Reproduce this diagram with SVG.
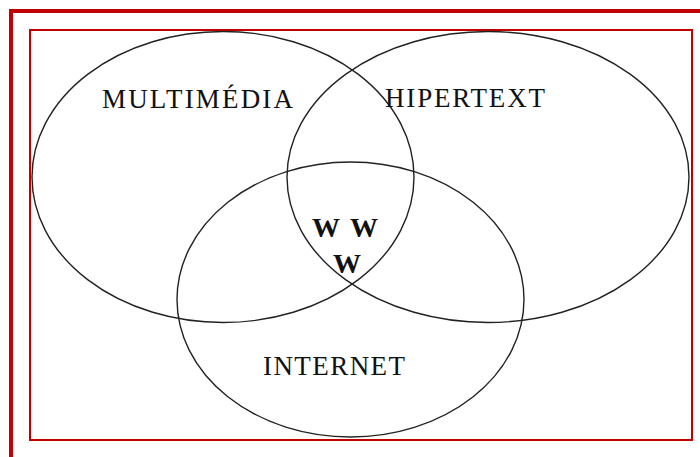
<svg xmlns="http://www.w3.org/2000/svg" width="700" height="457" viewBox="0 0 700 457">
<style>
.frame{fill:none;stroke:#c00000}
.set{fill:none;stroke:#222;stroke-width:1.4}
.lbl{font-family:"Liberation Serif","DejaVu Serif",serif;font-size:27px;fill:#111}
.www{font-family:"Liberation Serif","DejaVu Serif",serif;font-size:28px;font-weight:bold;fill:#111}
</style>
<rect width="700" height="457" fill="#fff"/>
<g id="frame">
<path class="frame" stroke-width="4" d="M11 457V11H700"/>
<rect class="frame" stroke-width="2" x="30" y="30" width="662" height="410"/>
</g>
<g id="multimedia">
<ellipse class="set" cx="223" cy="177" rx="191" ry="145.5"/>
<text class="lbl" x="102" y="108" textLength="191" lengthAdjust="spacing">MULTIMÉDIA</text>
</g>
<g id="hipertext">
<ellipse class="set" cx="488" cy="177" rx="201" ry="145.5"/>
<text class="lbl" x="385" y="107" textLength="160" lengthAdjust="spacing">HIPERTEXT</text>
</g>
<g id="internet">
<ellipse class="set" cx="350.5" cy="299.5" rx="173.5" ry="137.5"/>
<text class="lbl" x="263" y="375" textLength="142" lengthAdjust="spacing">INTERNET</text>
</g>
<g id="www">
<text class="www" x="312" y="237">W</text>
<text class="www" x="350" y="237">W</text>
<text class="www" x="333" y="273">W</text>
</g>
<g id="connectors"/>
</svg>
